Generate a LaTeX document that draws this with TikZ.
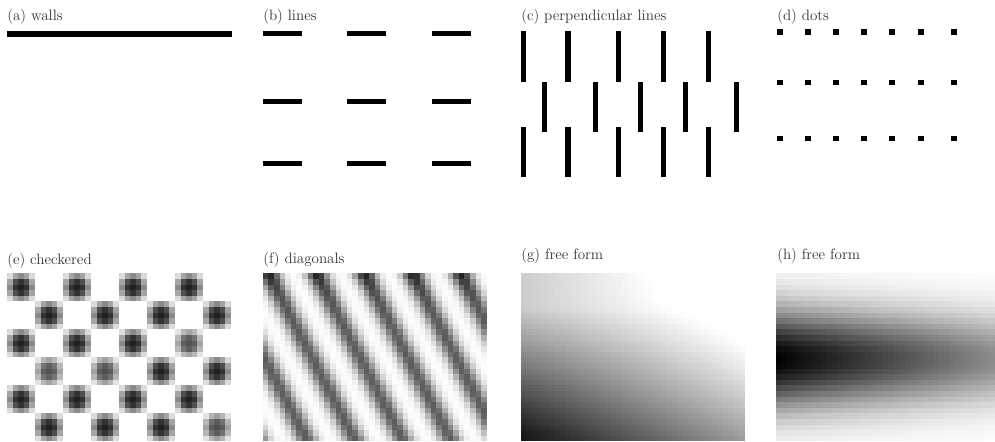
\documentclass[tikz,border=0pt]{standalone}

\newcommand{\pixcell}{5.6}

\begin{document}
\begin{tikzpicture}[x=0.75pt,y=-0.75pt,
    lbl/.style={anchor=base west,inner sep=0pt,text=black!80,
      font=\fontsize{11.3}{13}\selectfont},
    bar/.style={fill=black}]

  \useasboundingbox (0,0) rectangle (995,442);

  % Captions
  \node[lbl] (capa) at (7,20.5)    {(a) walls};
  \node[lbl] (capb) at (263,20.5)  {(b) lines};
  \node[lbl] (capc) at (521,20.5)  {(c) perpendicular lines};
  \node[lbl] (capd) at (777,20.5)  {(d) dots};
  \node[lbl] (cape) at (7,264)     {(e) checkered};
  \node[lbl] (capf) at (263,263.5) {(f) diagonals};
  \node[lbl] (capg) at (521,259.5) {(g) free form};
  \node[lbl] (caph) at (777,259.5) {(h) free form};

  % (a) walls
  \fill[bar] (7,31) rectangle (232,37);

  % (b) lines
  \foreach \x in {262.7,346.7,431.7}
    \foreach \y in {31,98.7,160.7}
      \fill[bar] (\x,\y) rectangle ++(39.5,5.4);

  % (c) perpendicular lines
  \foreach \x in {520.7,565.3,615.7,661,706} {
    \fill[bar] (\x,31) rectangle ++(5.2,50.7);
    \fill[bar] (\x,126.7) rectangle ++(5.2,50);
  }
  \foreach \x in {542,593,638,683,734}
    \fill[bar] (\x,81.7) rectangle ++(5.4,50);

  % (d) dots
  \foreach \x in {776.7,805,833,861,889,917.7,951.3}
    \foreach \y in {29.3,80,136}
      \fill[bar] (\x,\y) rectangle ++(5.8,5.4);

  % (e) checkered
  \foreach \r in {0,...,5} {
    \pgfmathsetmacro{\off}{mod(\r,2)*28}
    \foreach \k in {0,...,3} {
      \pgfmathsetmacro{\amp}{{1,1,1,1,1,1,1,1,1,1,1,0.78,0.78,0.8,1,1,1,1,1,1,1,1,1,0.8}[4*\r+\k]}
      \foreach \i in {0,...,4}
        \foreach \j in {0,...,4} {
          \pgfmathsetmacro{\dd}{(\i-2)^2+(\j-2)^2}
          \pgfmathsetmacro{\tone}{87*\amp*exp(-0.08*\dd*sqrt(\dd))}
          \fill[black!\tone] (7+\off+56*\k+\pixcell*\i,273.3+28*\r+\pixcell*\j)
            rectangle ++(\pixcell+0.15,\pixcell+0.15);
        }
    }
  }

  % (f) diagonals
  \foreach \c in {0,...,39}
    \foreach \r in {0,...,29} {
      \pgfmathsetmacro{\s}{\pixcell*(\c+0.5)-5.3-0.52*\pixcell*(\r+0.5)}
      \pgfmathsetmacro{\d}{mod(\s+504,48)-24}
      \pgfmathsetmacro{\tone}{(64+22*exp(-\r/2.5))*exp(-\d*\d/128)}
      \fill[black!\tone] (262.7+\pixcell*\c,273.3+\pixcell*\r)
        rectangle ++(\pixcell+0.15,\pixcell+0.15);
    }

  % (g) free form
  \foreach \c in {0,...,39}
    \foreach \r in {0,...,29} {
      \pgfmathsetmacro{\u}{(\c+0.5)/40}
      \pgfmathsetmacro{\v}{(\r+0.5)/30}
      \pgfmathsetmacro{\lft}{min(0.92,0.2+0.75*max(0,(\v-0.2)/0.8))}
      \pgfmathsetmacro{\rgt}{-0.15+0.55*\v*sqrt(\v)}
      \pgfmathsetmacro{\tone}{100*max(0,\lft+(\rgt-\lft)*\u)}
      \fill[black!\tone] (520.7+\pixcell*\c,273.3+\pixcell*\r)
        rectangle ++(\pixcell+0.15,\pixcell+0.15);
    }

  % (h) free form
  \foreach \c in {0,...,38}
    \foreach \r in {0,...,29} {
      \pgfmathsetmacro{\u}{(\c+0.5)/39}
      \pgfmathsetmacro{\d}{\r+0.5-15.3}
      \pgfmathsetmacro{\sg}{6.3-0.8*\u}
      \pgfmathsetmacro{\tone}{100*(1-0.55*\u)*exp(-\d*\d/(2*\sg*\sg))}
      \fill[black!\tone] (776+\pixcell*\c,273.3+\pixcell*\r)
        rectangle ++(\pixcell+0.15,\pixcell+0.15);
    }

\end{tikzpicture}
\end{document}
